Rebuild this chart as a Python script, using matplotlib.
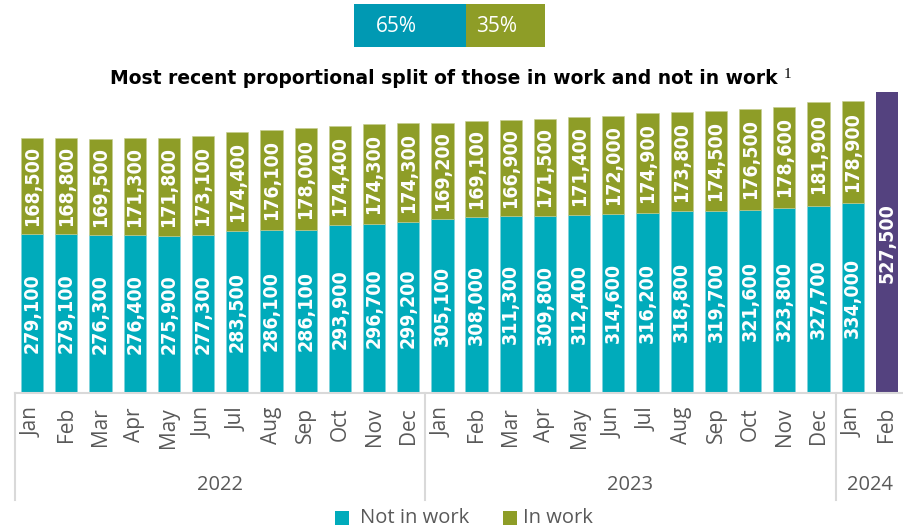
import matplotlib.pyplot as plt
import matplotlib.transforms as mtransforms
from matplotlib.patches import Rectangle
from matplotlib import font_manager
import numpy as np

plt.rcParams['font.family'] = ['Open Sans', 'DejaVu Sans']

months = ['Jan', 'Feb', 'Mar', 'Apr', 'May', 'Jun', 'Jul', 'Aug', 'Sep', 'Oct', 'Nov', 'Dec',
          'Jan', 'Feb', 'Mar', 'Apr', 'May', 'Jun', 'Jul', 'Aug', 'Sep', 'Oct', 'Nov', 'Dec',
          'Jan', 'Feb']
years = ['2022', '2023', '2024']
year_counts = [12, 12, 2]
not_in_work = [279100, 279100, 276300, 276400, 275900, 277300, 283500, 286100, 286100, 293900, 296700, 299200,
               305100, 308000, 311300, 309800, 312400, 314600, 316200, 318800, 319700, 321600, 323800, 327700,
               334000]
in_work = [168500, 168800, 169500, 171300, 171800, 173100, 174400, 176100, 178000, 174400, 174300, 174300,
           169200, 169100, 166900, 171500, 171400, 172000, 174900, 173800, 174500, 176500, 178600, 181900,
           178900]
feb_2024_total = 527500
split_labels = ['65%', '35%']
title = 'Most recent proportional split of those in work and not in work'
legend_labels = ['Not in work', 'In work']

TEAL = '#00ABBB'
GREEN = '#8E9D27'
PURPLE = '#54427F'
BOX_TEAL = '#0099B3'
GRAY_TXT = '#595959'
LINE = '#D9D9D9'

W, H = 904, 530
fig = plt.figure(figsize=(W / 100, H / 100), dpi=100)

def fx(px):
    return px / W

def fy(py):
    return 1 - py / H

ax = fig.add_axes([fx(15), fy(393), fx(889), (393 - 88) / H])
n = len(not_in_work)
x = np.arange(n)
bw = 0.65
ax.bar(x, not_in_work, width=bw, color=TEAL, edgecolor='#7fd3dc', linewidth=0.4)
ax.bar(x, in_work, bottom=not_in_work, width=bw, color=GREEN, edgecolor='#c5cd90', linewidth=0.4)
ax.bar([n], [feb_2024_total], width=bw, color=PURPLE)

lab_fp = font_manager.FontProperties(family=['DejaVu Sans'], weight='bold', stretch='condensed',
                                     size=14)
for i in range(n):
    ax.text(x[i], not_in_work[i] / 2, f"{not_in_work[i]:,}", rotation=90, ha='center', va='center',
            color='white', fontproperties=lab_fp)
    ax.text(x[i], not_in_work[i] + in_work[i] / 2, f"{in_work[i]:,}", rotation=90, ha='center',
            va='center', color='white', fontproperties=lab_fp)
ax.text(n, feb_2024_total / 2, f"{feb_2024_total:,}", rotation=90, ha='center', va='center',
        color='white', fontproperties=lab_fp)

ax.set_xlim(-0.5, len(months) - 0.5)
ax.set_ylim(0, 535000)
ax.axis('off')

trans = mtransforms.blended_transform_factory(ax.transData, ax.transAxes)
axh = 393 - 88
ax.plot([-0.5, len(months) - 0.5], [0, 0], transform=trans, color=LINE, lw=1.5, clip_on=False)
for i, m in enumerate(months):
    ax.text(i, -14 / axh, m, rotation=90, ha='center', va='top', color=GRAY_TXT, fontsize=15,
            transform=trans)
start = 0
for yr, c in zip(years, year_counts):
    ax.plot([start - 0.5, start - 0.5], [0, -107 / axh], transform=trans, color=LINE, lw=1.5,
            clip_on=False)
    ax.text(start - 0.5 + c / 2, -92 / axh, yr, ha='center', va='center', color=GRAY_TXT,
            fontsize=14.5, transform=trans)
    start += c

# top split boxes
fig.add_artist(Rectangle((fx(354), fy(47)), fx(112), 43 / H, transform=fig.transFigure,
                         color=BOX_TEAL, lw=0))
fig.add_artist(Rectangle((fx(466), fy(47)), fx(79), 43 / H, transform=fig.transFigure,
                         color=GREEN, lw=0))
fig.text(fx(396), fy(27), split_labels[0], ha='center', va='center', color='white', fontsize=15)
fig.text(fx(497), fy(27), split_labels[1], ha='center', va='center', color='white', fontsize=15)

# title
fig.text(fx(778), fy(79), title, ha='right', va='center', fontweight='bold', fontsize=13.5,
         color='black', family=['DejaVu Sans'])
fig.text(fx(784), fy(75), '1', ha='left', va='center', fontsize=11, color='black',
         family=['Liberation Serif'])

# legend
fig.add_artist(Rectangle((fx(335), fy(525)), fx(14), 14 / H, transform=fig.transFigure,
                         color=TEAL, lw=0))
fig.text(fx(360), fy(518), legend_labels[0], ha='left', va='center', color=GRAY_TXT, fontsize=14.5)
fig.add_artist(Rectangle((fx(503), fy(525)), fx(14), 14 / H, transform=fig.transFigure,
                         color=GREEN, lw=0))
fig.text(fx(523), fy(518), legend_labels[1], ha='left', va='center', color=GRAY_TXT, fontsize=14.5)

fig.savefig('out.png', dpi=100)
